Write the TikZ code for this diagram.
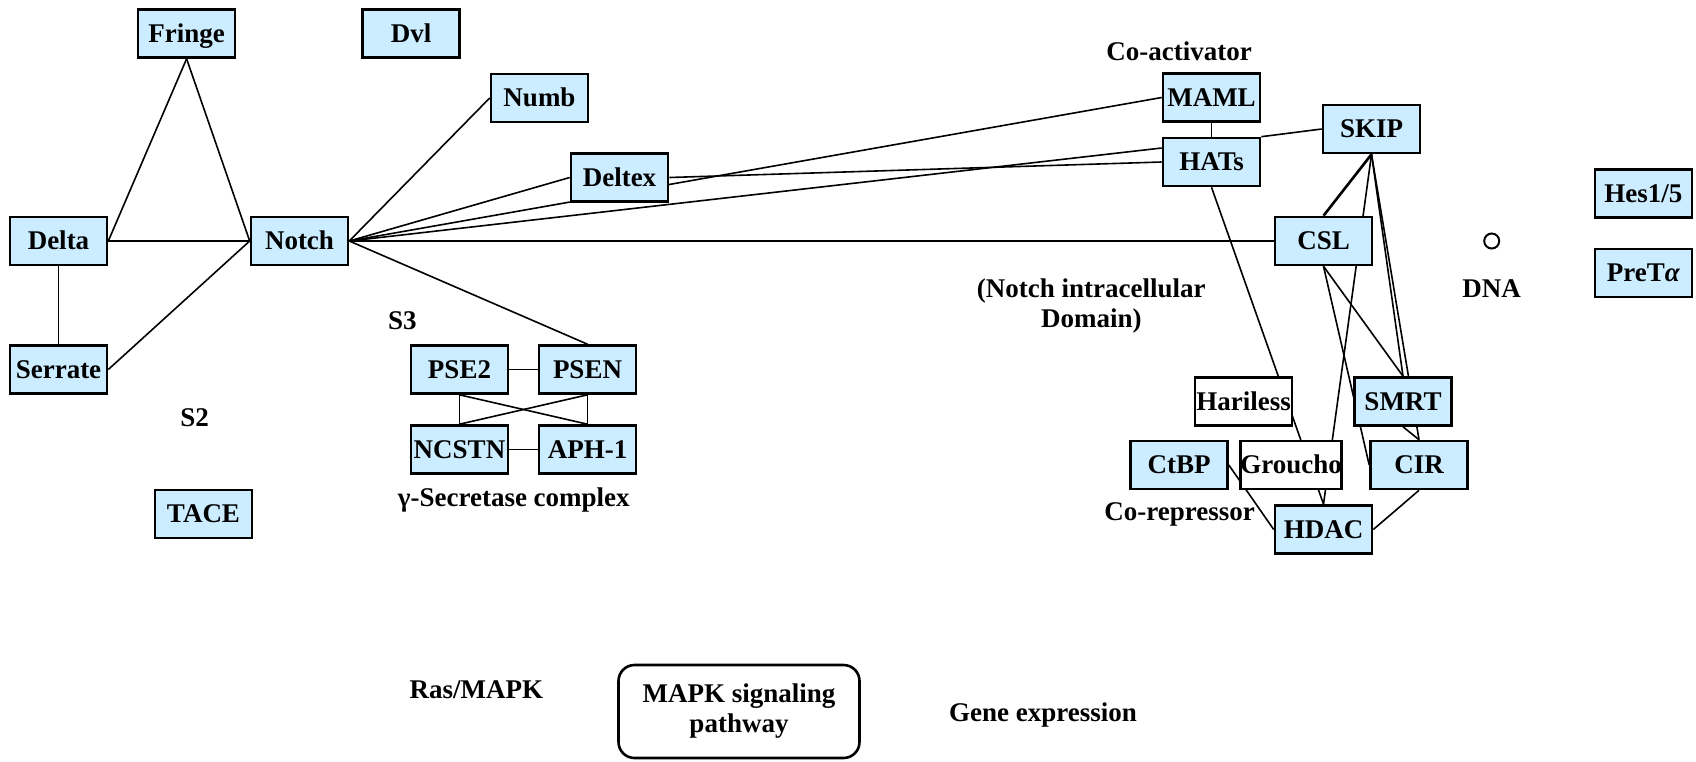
\documentclass[tikz,border=0pt]{standalone}
\usepackage{fontspec}
\setmainfont{Liberation Serif}
\definecolor{boxblue}{RGB}{204,236,255}
\pgfdeclarelayer{edges}
\pgfsetlayers{edges,main}
\begin{document}
\begin{tikzpicture}[x=0.5pt,y=-0.5pt,
  font=\fontsize{13.5}{15}\selectfont\bfseries,
  gene/.style={draw=black, line width=1.3pt, fill=boxblue,
    minimum width=48.5pt, minimum height=24pt, inner sep=0pt,
    text height=8.9pt, text depth=0pt},
  plainbox/.style={gene, fill=white},
  lbl/.style={inner sep=0pt, align=center},
  link/.style={draw=black, line width=0.8pt}]
\useasboundingbox (0,0) rectangle (1696,761);

% ligands and regulators
\node[gene] (fringe) at (186.6,33.5) {Fringe};
\node[gene] (dvl) at (411,33.5) {Dvl};
\node[gene] (numb) at (539.5,98) {Numb};
\node[gene] (deltex) at (619.5,177.5) {Deltex};
\node[gene] (delta) at (58.5,241) {Delta};
\node[gene] (notch) at (299.5,241) {Notch};
\node[gene] (serrate) at (58.5,369.5) {Serrate};
\node[gene] (tace) at (203.5,514) {TACE};
\node[lbl] (s2) at (194.7,417.5) {S2};
\node[lbl] (s3) at (402.4,321) {S3};

% gamma-secretase complex
\node[gene] (pse2) at (459.5,369.5) {PSE2};
\node[gene] (psen) at (587.5,369.5) {PSEN};
\node[gene] (ncstn) at (459.5,449.5) {NCSTN};
\node[gene] (aph) at (587.5,449.5) {APH-1};
\node[lbl] (gsec) at (513.8,500) {γ-Secretase complex};

% nuclear complex
\node[lbl] (coact) at (1179,50.8) {Co-activator};
\node[gene] (maml) at (1211.5,97.5) {MAML};
\node[gene] (hats) at (1211.5,162) {HATs};
\node[gene] (skip) at (1371.5,129) {SKIP};
\node[gene] (csl) at (1323.5,241) {CSL};
\node[lbl] (nicd) at (1091.3,306) {(Notch intracellular\\Domain)};
\node[plainbox] (hariless) at (1243.5,401.5) {Hariless};
\node[gene] (smrt) at (1403,401.5) {SMRT};
\node[gene] (ctbp) at (1179,465) {CtBP};
\node[plainbox] (groucho) at (1291,465) {Groucho};
\node[gene] (cir) at (1419,465) {CIR};
\node[gene] (hdac) at (1323.5,529.5) {HDAC};
\node[lbl] (corep) at (1179.5,514) {Co-repressor};

% DNA and target genes
\node[draw=black, line width=1pt, circle, minimum size=7.5pt, inner sep=0pt] (dna) at (1491.7,241) {};
\node[lbl] (dnalbl) at (1491.7,289) {DNA};
\node[gene] (hes) at (1643.3,193.5) {Hes1/5};
\node[gene] (pret) at (1643.3,273) {PreT{\itshape α}};

% bottom row
\node[lbl] (ras) at (476.4,690) {Ras/MAPK};
\node[draw=black, line width=1.3pt, rounded corners=8pt, fill=white,
  minimum width=120.5pt, minimum height=46.5pt, inner sep=0pt, align=center]
  (mapk) at (739,711.5) {MAPK signaling\\pathway};
\node[lbl] (geneexp) at (1043,715) {Gene expression};

\begin{pgfonlayer}{edges}
% ligand side
\draw[link] (fringe.south) -- (delta.east);
\draw[link] (fringe.south) -- (notch.west);
\draw[link] (delta.east) -- (notch.west);
\draw[link] (delta.south) -- (serrate.north);
\draw[link] (serrate.east) -- (notch.west);
% from Notch
\draw[link] (notch.east) -- (numb.west);
\draw[link] (notch.east) -- (deltex.west);
\draw[link] (notch.east) -- (maml.west);
\draw[link] (notch.east) -- ([yshift=7pt]hats.west);
\draw[link] (notch.east) -- (csl.west);
\draw[link] (notch.east) -- (psen.north);
\draw[link] (deltex.east) -- (hats.west);
% secretase complex
\draw[link] (pse2.east) -- (psen.west);
\draw[link] (ncstn.east) -- (aph.west);
\draw[link] (pse2.south) -- (ncstn.north);
\draw[link] (psen.south) -- (aph.north);
\draw[link] (pse2.south) -- (aph.north);
\draw[link] (psen.south) -- (ncstn.north);
% nuclear complex
\draw[link] (maml.south) -- (hats.north);
\draw[link] (hats.north east) -- (skip.west);
\draw[link] (hats.south) -- (hdac.north);
\draw[link, line width=1.3pt] (skip.south) -- (csl.north);
\draw[link] (skip.south) -- (hdac.north);
\draw[link] (skip.south) -- (smrt.north);
\draw[link] (skip.south) -- (cir.north);
\draw[link] (csl.south) -- (smrt.north);
\draw[link] (csl.south) -- (cir.west);
\draw[link] (smrt.south) -- (cir.north);
\draw[link] (ctbp.east) -- (hdac.west);
\draw[link] (hdac.east) -- (cir.south);
\end{pgfonlayer}
\end{tikzpicture}
\end{document}
